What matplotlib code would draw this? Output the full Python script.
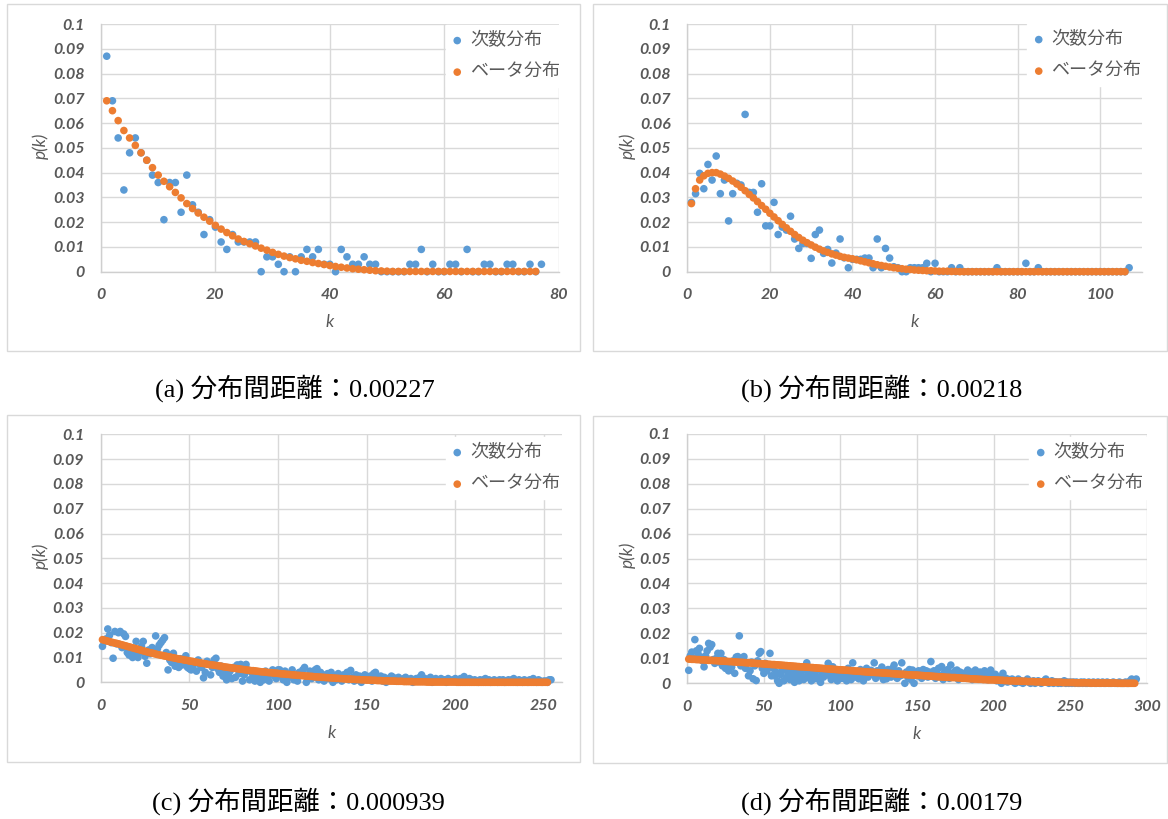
import matplotlib
matplotlib.use('Agg')
import matplotlib.pyplot as plt
import numpy as np
from matplotlib.patches import Rectangle
from matplotlib.ticker import FuncFormatter, MultipleLocator

# ---------------- data ----------------
labels = ['次数分布', 'ベータ分布']
captions = ['(a) 分布間距離：0.00227', '(b) 分布間距離：0.00218',
            '(c) 分布間距離：0.000939', '(d) 分布間距離：0.00179']

a_blue = [0.087, 0.069, 0.054, 0.033, 0.048, 0.054, 0.048, 0.045, 0.039, 0.036,
          0.021, 0.036, 0.036, 0.024, 0.039, 0.027, 0.024, 0.015, 0.021, 0.018,
          0.012, 0.009, 0.015, 0.012, 0.012, 0.012, 0.012, 0.0, 0.006, 0.006,
          0.003, 0.0, 0.006, 0.0, 0.006, 0.009, 0.006, 0.009, 0.003, 0.003,
          0.0, 0.009, 0.006, 0.003, 0.003, 0.006, 0.003, 0.003, 0.0, 0.0,
          0.0, 0.0, 0.0, 0.003, 0.003, 0.009, 0.0, 0.003, 0.0, 0.0,
          0.003, 0.003, 0.0, 0.009, 0.0, 0.0, 0.003, 0.003, 0.0, 0.0,
          0.003, 0.003, 0.0, 0.0, 0.003, 0.0, 0.003]
a_orange = [0.069, 0.065, 0.061, 0.057, 0.054, 0.051, 0.048, 0.045, 0.042, 0.039,
            0.0365, 0.0343, 0.032, 0.0298, 0.0275, 0.0255, 0.0237, 0.022, 0.0204, 0.0187,
            0.0172, 0.0158, 0.0145, 0.0132, 0.0122, 0.0113, 0.0104, 0.0095, 0.0087, 0.0078,
            0.007, 0.0063, 0.0057, 0.0052, 0.0046, 0.0042, 0.0037, 0.0033, 0.0029, 0.0025,
            0.0021, 0.0018, 0.0015, 0.0012, 0.001, 0.0008, 0.0006, 0.0004, 0.0003, 0.0002,
            0.0001, 0.0001, 0.0001, 0.0001, 0.0001, 0.0001, 0.0001, 0.0001, 0.0001, 0.0001,
            0.0001, 0.0001, 0.0001, 0.0001, 0.0001, 0.0001, 0.0001, 0.0001, 0.0001, 0.0001,
            0.0001, 0.0001, 0.0001, 0.0001, 0.0001, 0.0001]

b_blue = [0.028, 0.0315, 0.0397, 0.0335, 0.0433, 0.037, 0.0467, 0.0315, 0.037, 0.0205,
          0.0315, 0.0357, 0.035, 0.0635, 0.032, 0.032, 0.024, 0.0355, 0.0185, 0.0185,
          0.028, 0.015, 0.018, 0.0168, 0.0224, 0.0132, 0.0094, 0.0114, 0.0114, 0.0054,
          0.015, 0.0168, 0.0074, 0.009, 0.0035, 0.0075, 0.0132, 0.0056, 0.0016, 0.005,
          0.005, 0.005, 0.0055, 0.0055, 0.0016, 0.0132, 0.0016, 0.0094, 0.0055, 0.002,
          0.0016, 0.0, 0.0, 0.0016, 0.0016, 0.0016, 0.0016, 0.0034, 0.0, 0.0034,
          0.0, 0.0, 0.0, 0.0016, 0.0, 0.0016, 0.0, 0.0, 0.0, 0.0,
          0.0, 0.0, 0.0, 0.0, 0.0016, 0.0, 0.0, 0.0, 0.0, 0.0,
          0.0, 0.0034, 0.0, 0.0, 0.0016, 0.0, 0.0, 0.0, 0.0, 0.0,
          0.0, 0.0, 0.0, 0.0, 0.0, 0.0, 0.0, 0.0, 0.0, 0.0,
          0.0, 0.0, 0.0, 0.0, 0.0, 0.0, 0.0016]
b_orange = [0.0275, 0.0335, 0.037, 0.0387, 0.0397, 0.040, 0.040, 0.0394, 0.0386, 0.0377,
            0.0366, 0.0354, 0.0341, 0.0327, 0.0312, 0.0298, 0.0283, 0.0267, 0.0252, 0.0236,
            0.0221, 0.0206, 0.0191, 0.0177, 0.0163, 0.015, 0.0138, 0.0127, 0.0117, 0.0108,
            0.0099, 0.0091, 0.0084, 0.0078, 0.0072, 0.0067, 0.0062, 0.0058, 0.0055, 0.0052,
            0.0048, 0.0044, 0.004, 0.0036, 0.0032, 0.0028, 0.0025, 0.0022, 0.0019, 0.0016,
            0.0014, 0.0012, 0.001, 0.0009, 0.0007, 0.0006, 0.0005, 0.0004, 0.0004, 0.0003,
            0.0002, 0.0002, 0.0002, 0.0001, 0.0001, 0.0, 0.0, 0.0, 0.0, 0.0,
            0.0, 0.0, 0.0, 0.0, 0.0, 0.0, 0.0, 0.0, 0.0, 0.0,
            0.0, 0.0, 0.0, 0.0, 0.0, 0.0, 0.0, 0.0, 0.0, 0.0,
            0.0, 0.0, 0.0, 0.0, 0.0, 0.0, 0.0, 0.0, 0.0, 0.0,
            0.0, 0.0, 0.0, 0.0, 0.0, 0.0]

c_blue = [0.0145, 0.0165, 0.0175, 0.0215, 0.0190, 0.0160, 0.0097, 0.0205, 0.0155, 0.0200,
          0.0205, 0.0140, 0.0195, 0.0185, 0.0120, 0.0110, 0.0125, 0.0100, 0.0115, 0.0165,
          0.0100, 0.0120, 0.0145, 0.0165, 0.0105, 0.0077, 0.0130, 0.0115, 0.0140, 0.0125,
          0.0187, 0.0135, 0.0150, 0.0160, 0.0170, 0.0180, 0.0120, 0.0050, 0.0090, 0.0080,
          0.0117, 0.0065, 0.0075, 0.0060, 0.0095, 0.0070, 0.0085, 0.0107, 0.0060, 0.0055,
          0.0050, 0.0065, 0.0080, 0.0045, 0.0090, 0.0070, 0.0060, 0.0018, 0.0040, 0.0085,
          0.0075, 0.0030, 0.0060, 0.0090, 0.0097, 0.0055, 0.0040, 0.0065, 0.0025, 0.0050,
          0.0010, 0.0030, 0.0045, 0.0015, 0.0060, 0.0020, 0.0070, 0.0035, 0.0072, 0.0005,
          0.0030, 0.0072, 0.0050, 0.0010, 0.0040, 0.0025, 0.0005, 0.0035, 0.0015, 0.0000,
          0.0030, 0.0010, 0.0045, 0.0020, 0.0005, 0.0035, 0.0050, 0.0025, 0.0015, 0.0050,
          0.0050, 0.0030, 0.0010, 0.0045, 0.0000, 0.0020, 0.0035, 0.0050, 0.0010, 0.0025,
          0.0005, 0.0040, 0.0030, 0.0050, 0.0060, 0.0000, 0.0020, 0.0045, 0.0015, 0.0030,
          0.0050, 0.0055, 0.0010, 0.0040, 0.0025, 0.0005, 0.0030, 0.0035, 0.0015, 0.0040,
          0.0000, 0.0025, 0.0010, 0.0035, 0.0020, 0.0005, 0.0030, 0.0015, 0.0040, 0.0010,
          0.0048, 0.0020, 0.0005, 0.0030, 0.0010, 0.0025, 0.0000, 0.0015, 0.0030, 0.0010,
          0.0020, 0.0025, 0.0005, 0.0035, 0.0040, 0.0015, 0.0010, 0.0025, 0.0005, 0.0020,
          0.0000, 0.0015, 0.0010, 0.0025, 0.0020, 0.0005, 0.0015, 0.0020, 0.0010, 0.0005,
          0.0015, 0.0020, 0.0010, 0.0005, 0.0015, 0.0000, 0.0010, 0.0015, 0.0005, 0.0020,
          0.0030, 0.0010, 0.0015, 0.0005, 0.0010, 0.0020, 0.0000, 0.0010, 0.0015, 0.0005,
          0.0010, 0.0015, 0.0005, 0.0010, 0.0000, 0.0015, 0.0010, 0.0005, 0.0010, 0.0015,
          0.0005, 0.0010, 0.0015, 0.0010, 0.0023, 0.0005, 0.0010, 0.0015, 0.0010, 0.0005,
          0.0010, 0.0005, 0.0000, 0.0010, 0.0005, 0.0010, 0.0015, 0.0005, 0.0010, 0.0000,
          0.0005, 0.0010, 0.0005, 0.0000, 0.0010, 0.0005, 0.0010, 0.0000, 0.0005, 0.0010,
          0.0005, 0.0010, 0.0015, 0.0005, 0.0000, 0.0010, 0.0005, 0.0000, 0.0010, 0.0005,
          0.0000, 0.0010, 0.0005, 0.0015, 0.0005, 0.0000, 0.0010, 0.0005, 0.0000, 0.0005,
          0.0005, 0.0000, 0.0010, 0.0010]
c_orange = [0.0172, 0.0170, 0.0168, 0.0166, 0.0164, 0.0162, 0.0160, 0.0158, 0.0157, 0.0155,
            0.0153, 0.0151, 0.0149, 0.0147, 0.0145, 0.0143, 0.0141, 0.0139, 0.0137, 0.0135,
            0.0133, 0.0131, 0.0129, 0.0127, 0.0125, 0.0123, 0.0121, 0.0119, 0.0118, 0.0116,
            0.0114, 0.0112, 0.0111, 0.0109, 0.0108, 0.0106, 0.0105, 0.0103, 0.0102, 0.0100,
            0.0099, 0.0097, 0.0096, 0.0094, 0.0093, 0.0092, 0.0090, 0.0089, 0.0088, 0.0086,
            0.0085, 0.0084, 0.0082, 0.0081, 0.0080, 0.0078, 0.0077, 0.0076, 0.0075, 0.0073,
            0.0072, 0.0071, 0.0070, 0.0069, 0.0068, 0.0067, 0.0066, 0.0065, 0.0063, 0.0062,
            0.0061, 0.0060, 0.0059, 0.0058, 0.0057, 0.0056, 0.0055, 0.0054, 0.0053, 0.0052,
            0.0051, 0.0050, 0.0049, 0.0048, 0.0047, 0.0047, 0.0046, 0.0045, 0.0044, 0.0043,
            0.0042, 0.0042, 0.0041, 0.0040, 0.0039, 0.0039, 0.0038, 0.0037, 0.0037, 0.0036,
            0.0035, 0.0034, 0.0034, 0.0033, 0.0032, 0.0032, 0.0031, 0.0030, 0.0030, 0.0029,
            0.0028, 0.0028, 0.0027, 0.0027, 0.0026, 0.0025, 0.0025, 0.0024, 0.0024, 0.0023,
            0.0022, 0.0022, 0.0021, 0.0021, 0.0020, 0.0020, 0.0019, 0.0019, 0.0018, 0.0018,
            0.0017, 0.0017, 0.0016, 0.0016, 0.0015, 0.0015, 0.0014, 0.0014, 0.0013, 0.0013,
            0.0013, 0.0012, 0.0012, 0.0011, 0.0011, 0.0011, 0.0010, 0.0010, 0.0010, 0.0009,
            0.0009, 0.0009, 0.0008, 0.0008, 0.0008, 0.0007, 0.0007, 0.0007, 0.0006, 0.0006,
            0.0006, 0.0006, 0.0005, 0.0005, 0.0005, 0.0005, 0.0004, 0.0004, 0.0004, 0.0004,
            0.0003, 0.0003, 0.0003, 0.0003, 0.0003, 0.0003, 0.0002, 0.0002, 0.0002, 0.0002,
            0.0002, 0.0002, 0.0002, 0.0001, 0.0001, 0.0001, 0.0001, 0.0001, 0.0001, 0.0001,
            0.0001, 0.0001, 0.0001, 0.0001, 0.0001, 0.0001, 0.0001, 0.0001, 0.0001, 0.0001,
            0.0, 0.0, 0.0, 0.0, 0.0, 0.0, 0.0, 0.0, 0.0, 0.0,
            0.0, 0.0, 0.0, 0.0, 0.0, 0.0, 0.0, 0.0, 0.0, 0.0,
            0.0, 0.0, 0.0, 0.0, 0.0, 0.0, 0.0, 0.0, 0.0, 0.0,
            0.0, 0.0, 0.0, 0.0, 0.0, 0.0, 0.0, 0.0, 0.0, 0.0,
            0.0, 0.0, 0.0, 0.0, 0.0, 0.0, 0.0, 0.0, 0.0, 0.0,
            0.0, 0.0]

d_blue = [0.0052, 0.0110, 0.0125, 0.0100, 0.0175, 0.0130, 0.0120, 0.0140, 0.0105, 0.0090,
          0.0066, 0.0110, 0.0130, 0.0160, 0.0145, 0.0155, 0.0095, 0.0080, 0.0100, 0.0120,
          0.0085, 0.0120, 0.0070, 0.0095, 0.0060, 0.0075, 0.0050, 0.0080, 0.0065, 0.0090,
          0.0040, 0.0105, 0.0107, 0.0190, 0.0070, 0.0090, 0.0107, 0.0060, 0.0080, 0.0030,
          0.0050, 0.0085, 0.0018, 0.0070, 0.0011, 0.0090, 0.0120, 0.0127, 0.0060, 0.0040,
          0.0080, 0.0050, 0.0066, 0.0120, 0.0030, 0.0060, 0.0030, 0.0045, 0.0010, 0.0000,
          0.0035, 0.0050, 0.0010, 0.0060, 0.0025, 0.0040, 0.0015, 0.0055, 0.0030, 0.0004,
          0.0045, 0.0020, 0.0010, 0.0035, 0.0050, 0.0015, 0.0025, 0.0082, 0.0040, 0.0020,
          0.0010, 0.0045, 0.0018, 0.0030, 0.0055, 0.0015, 0.0004, 0.0035, 0.0025, 0.0045,
          0.0060, 0.0080, 0.0030, 0.0015, 0.0066, 0.0040, 0.0020, 0.0010, 0.0050, 0.0035,
          0.0020, 0.0025, 0.0045, 0.0010, 0.0060, 0.0030, 0.0015, 0.0082, 0.0045, 0.0025,
          0.0035, 0.0018, 0.0055, 0.0030, 0.0010, 0.0040, 0.0060, 0.0025, 0.0045, 0.0052,
          0.0035, 0.0082, 0.0020, 0.0050, 0.0040, 0.0030, 0.0065, 0.0015, 0.0045, 0.0018,
          0.0055, 0.0035, 0.0025, 0.0060, 0.0073, 0.0040, 0.0020, 0.0050, 0.0030, 0.0082,
          0.0035, 0.0000, 0.0045, 0.0025, 0.0055, 0.0015, 0.0053, 0.0000, 0.0040, 0.0030,
          0.0050, 0.0040, 0.0020, 0.0055, 0.0035, 0.0050, 0.0025, 0.0045, 0.0087, 0.0030,
          0.0050, 0.0020, 0.0040, 0.0060, 0.0030, 0.0067, 0.0015, 0.0045, 0.0035, 0.0055,
          0.0020, 0.0073, 0.0040, 0.0030, 0.0050, 0.0053, 0.0015, 0.0045, 0.0025, 0.0040,
          0.0035, 0.0020, 0.0053, 0.0030, 0.0045, 0.0015, 0.0040, 0.0053, 0.0025, 0.0035,
          0.0045, 0.0020, 0.0035, 0.0050, 0.0030, 0.0015, 0.0040, 0.0053, 0.0025, 0.0030,
          0.0036, 0.0010, 0.0025, 0.0015, 0.0000, 0.0040, 0.0010, 0.0020, 0.0005, 0.0015,
          0.0010, 0.0017, 0.0005, 0.0000, 0.0010, 0.0017, 0.0005, 0.0010, 0.0000, 0.0005,
          0.0010, 0.0017, 0.0005, 0.0000, 0.0005, 0.0010, 0.0000, 0.0005, 0.0010, 0.0005,
          0.0000, 0.0005, 0.0010, 0.0017, 0.0005, 0.0000, 0.0005, 0.0010, 0.0000, 0.0005,
          0.0005, 0.0000, 0.0005, 0.0000, 0.0005, 0.0010, 0.0000, 0.0005, 0.0000, 0.0005,
          0.0000, 0.0005, 0.0000, 0.0005, 0.0000, 0.0000, 0.0005, 0.0000, 0.0005, 0.0000,
          0.0000, 0.0005, 0.0000, 0.0000, 0.0005, 0.0000, 0.0000, 0.0005, 0.0000, 0.0000,
          0.0005, 0.0000, 0.0000, 0.0005, 0.0000, 0.0000, 0.0000, 0.0005, 0.0000, 0.0000,
          0.0000, 0.0005, 0.0000, 0.0000, 0.0000, 0.0005, 0.0000, 0.0000, 0.0010, 0.0017,
          0.0010, 0.0012, 0.0017]
d_orange = [0.0097, 0.0097, 0.0096, 0.0096, 0.0096, 0.0095, 0.0095, 0.0095, 0.0094, 0.0094,
            0.0094, 0.0093, 0.0093, 0.0092, 0.0092, 0.0092, 0.0091, 0.0091, 0.0091, 0.0090,
            0.0090, 0.0089, 0.0089, 0.0089, 0.0088, 0.0088, 0.0087, 0.0087, 0.0087, 0.0086,
            0.0086, 0.0085, 0.0085, 0.0084, 0.0084, 0.0084, 0.0083, 0.0083, 0.0082, 0.0082,
            0.0082, 0.0081, 0.0081, 0.0080, 0.0080, 0.0079, 0.0079, 0.0079, 0.0078, 0.0078,
            0.0077, 0.0077, 0.0076, 0.0076, 0.0075, 0.0075, 0.0075, 0.0074, 0.0074, 0.0073,
            0.0073, 0.0072, 0.0072, 0.0071, 0.0071, 0.0070, 0.0070, 0.0069, 0.0069, 0.0068,
            0.0068, 0.0067, 0.0067, 0.0066, 0.0066, 0.0066, 0.0065, 0.0065, 0.0064, 0.0064,
            0.0063, 0.0063, 0.0062, 0.0062, 0.0061, 0.0061, 0.0060, 0.0060, 0.0059, 0.0059,
            0.0058, 0.0058, 0.0057, 0.0057, 0.0056, 0.0056, 0.0055, 0.0055, 0.0054, 0.0054,
            0.0054, 0.0053, 0.0053, 0.0052, 0.0052, 0.0051, 0.0051, 0.0050, 0.0050, 0.0049,
            0.0049, 0.0048, 0.0048, 0.0047, 0.0047, 0.0046, 0.0046, 0.0045, 0.0045, 0.0044,
            0.0044, 0.0044, 0.0043, 0.0043, 0.0043, 0.0042, 0.0042, 0.0041, 0.0041, 0.0041,
            0.0040, 0.0040, 0.0039, 0.0039, 0.0038, 0.0038, 0.0037, 0.0037, 0.0036, 0.0036,
            0.0036, 0.0035, 0.0035, 0.0034, 0.0034, 0.0034, 0.0033, 0.0033, 0.0033, 0.0033,
            0.0032, 0.0032, 0.0031, 0.0031, 0.0030, 0.0030, 0.0030, 0.0029, 0.0029, 0.0028,
            0.0028, 0.0027, 0.0027, 0.0026, 0.0026, 0.0026, 0.0025, 0.0025, 0.0024, 0.0024,
            0.0024, 0.0023, 0.0023, 0.0023, 0.0023, 0.0022, 0.0022, 0.0021, 0.0021, 0.0020,
            0.0020, 0.0020, 0.0019, 0.0019, 0.0018, 0.0018, 0.0018, 0.0017, 0.0017, 0.0016,
            0.0016, 0.0016, 0.0015, 0.0015, 0.0015, 0.0014, 0.0014, 0.0014, 0.0014, 0.0014,
            0.0013, 0.0013, 0.0013, 0.0012, 0.0012, 0.0012, 0.0011, 0.0011, 0.0011, 0.0010,
            0.0010, 0.0010, 0.0010, 0.0009, 0.0009, 0.0009, 0.0009, 0.0008, 0.0008, 0.0008,
            0.0008, 0.0007, 0.0007, 0.0007, 0.0007, 0.0007, 0.0006, 0.0006, 0.0006, 0.0006,
            0.0006, 0.0005, 0.0005, 0.0005, 0.0005, 0.0005, 0.0005, 0.0004, 0.0004, 0.0004,
            0.0004, 0.0004, 0.0004, 0.0004, 0.0003, 0.0003, 0.0003, 0.0003, 0.0003, 0.0003,
            0.0003, 0.0003, 0.0002, 0.0002, 0.0002, 0.0002, 0.0002, 0.0002, 0.0002, 0.0002,
            0.0002, 0.0002, 0.0001, 0.0001, 0.0001, 0.0001, 0.0001, 0.0001, 0.0001, 0.0001,
            0.0001, 0.0001, 0.0001, 0.0001, 0.0001, 0.0001, 0.0001, 0.0001, 0.0001, 0.0001,
            0.0, 0.0, 0.0, 0.0, 0.0, 0.0, 0.0, 0.0, 0.0, 0.0,
            0.0, 0.0]

x_max = [80, 110, 260, 300]
x_tick_max = [80, 100, 250, 300]
x_step = [20, 20, 50, 50]

# ---------------- layout (pixels) ----------------
W, H = 1168, 819
BLUE = '#5B9BD5'
ORANGE = '#ED7D31'
GRID = '#d9d9d9'
TXT = '#595959'

fig = plt.figure(figsize=(W / 100, H / 100), dpi=100)


def fx(px):
    return px / W


def fy(py):
    return 1 - py / H


frames = [(7, 4, 580, 351), (593, 4, 1167, 351), (7, 415, 580, 762), (593, 416, 1167, 763)]
axes_px = [(101, 24, 558.6, 271.7), (687.3, 24, 1141.5, 271.7),
           (100.7, 434.3, 561.6, 682.3), (687.2, 433.7, 1147, 683.3)]
legend_px = [(445.5, 25), (1027, 24), (445.5, 437), (1029, 437)]
caption_px = [(295, 388), (882, 388), (298, 801), (882, 801)]

series = [(a_blue, a_orange), (b_blue, b_orange), (c_blue, c_orange), (d_blue, d_orange)]

for i in range(4):
    x0, y0, x1, y1 = frames[i]
    fig.patches.append(Rectangle((fx(x0), fy(y1)), fx(x1) - fx(x0), fy(y0) - fy(y1),
                                 transform=fig.transFigure, facecolor='none',
                                 edgecolor=GRID, linewidth=1.0))
    l, t, r, b = axes_px[i]
    ax = fig.add_axes([fx(l), fy(b), fx(r) - fx(l), fy(t) - fy(b)])
    blue, orange = series[i]
    kb = np.arange(1, len(blue) + 1)
    ko = np.arange(1, len(orange) + 1)
    ax.scatter(kb, blue, s=30, color=BLUE, edgecolors='none', clip_on=False,
               zorder=3, label=labels[0])
    ax.scatter(ko, orange, s=30, color=ORANGE, edgecolors='none', clip_on=False,
               zorder=4, label=labels[1])
    ax.set_xlim(0, x_max[i])
    ax.set_ylim(0, 0.1)
    ax.set_xticks(np.arange(0, x_tick_max[i] + 1, x_step[i]))
    ax.yaxis.set_major_locator(MultipleLocator(0.01))
    ax.yaxis.set_major_formatter(FuncFormatter(lambda v, p: '%g' % round(v, 3)))
    ax.grid(True, color=GRID, linewidth=1.0, zorder=0)
    ax.set_axisbelow(True)
    for s in ['top', 'right']:
        ax.spines[s].set_visible(False)
    for s in ['left', 'bottom']:
        ax.spines[s].set_color('#cfcfcf')
        ax.spines[s].set_linewidth(1.0)
    ax.tick_params(axis='both', length=0, colors=TXT)
    ax.tick_params(axis='y', pad=12)
    ax.tick_params(axis='x', pad=12)
    for lab in ax.get_xticklabels() + ax.get_yticklabels():
        lab.set_fontfamily('Lato')
        lab.set_fontstyle('italic')
        lab.set_fontweight('bold')
        lab.set_fontsize(11.5)
        lab.set_color(TXT)
    ax.set_xlabel('k', fontsize=12.5, fontstyle='italic', family='Lato', color=TXT)
    ax.xaxis.set_label_coords(0.5, -50.5 / (b - t))
    ax.xaxis.label.set_va('center')
    ax.set_ylabel('p(k)', fontsize=12.5, fontstyle='italic', family='Lato', color=TXT)
    ax.yaxis.set_label_coords(-60.0 / (r - l), (b - t - 121.5) / (b - t))
    ax.yaxis.label.set_va('center')

    lx, ly = legend_px[i]
    leg = ax.legend(loc='upper left', bbox_to_anchor=(fx(lx), fy(ly)),
                    bbox_transform=fig.transFigure, frameon=True, fancybox=False,
                    framealpha=1.0, facecolor='white', edgecolor='white',
                    borderaxespad=0, borderpad=0.35, handlelength=0.6,
                    handletextpad=0.4, labelspacing=0.75,
                    prop={'family': ['Noto Sans CJK JP', 'DejaVu Sans'], 'size': 13})
    leg.set_zorder(10)
    for tx in leg.get_texts():
        tx.set_color(TXT)

    cx, cy = caption_px[i]
    fig.text(fx(cx), fy(cy), captions[i], ha='center', va='center', fontsize=19,
             family=['Liberation Serif', 'Noto Sans CJK JP'], color='black')

fig.savefig('out.png', dpi=100)
